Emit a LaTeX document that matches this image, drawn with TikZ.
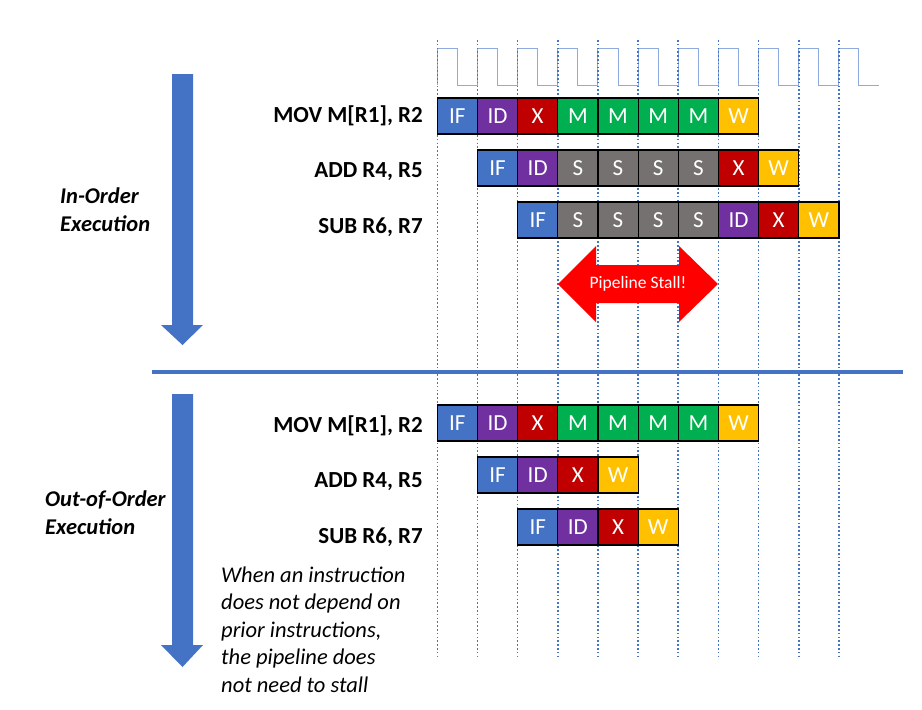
\documentclass[tikz,border=0pt]{standalone}
\usepackage{fontspec}
\setmainfont{Carlito}
\usetikzlibrary{calc}
\definecolor{cIF}{HTML}{4472C4}
\definecolor{cID}{HTML}{7030A0}
\definecolor{cX}{HTML}{C00000}
\definecolor{cM}{HTML}{00B050}
\definecolor{cW}{HTML}{FFC000}
\definecolor{cS}{HTML}{767171}
\newcommand{\flowColor}{cIF}
\newcommand{\stallColor}{red}
\tikzset{stage/.style = {draw=black, line width=1.2pt, minimum width=40.16pt, minimum height=36pt, inner sep=0pt, text=white, font=\fontsize{23}{23}\selectfont, text height=14.8pt, text depth=0pt}}
\tikzset{instr/.style = {anchor=base east, inner sep=0pt, font=\fontsize{23}{27}\selectfont\bfseries}}
\tikzset{side/.style = {anchor=base west, inner sep=0pt, align=left, font=\fontsize{22.5}{28}\selectfont\bfseries\itshape}}
\tikzset{tick/.style = {\flowColor, line width=1.6pt, dash pattern=on 1.6pt off 2.2pt}}
\tikzset{clock/.style = {color={rgb,255:red,143;green,170;blue,220}, line width=1pt}}

\begin{document}
\begin{tikzpicture}[x=1pt, y=-1pt]
    \def\xo{437.3}
    \def\p{40.16}
    \useasboundingbox (0,0) rectangle (922,710);

    % clock signal
    \draw[clock] (\xo,85) \foreach \i in {0,...,10} {-- ++(0,-37) -- ++(0.5*\p,0) -- ++(0,37) -- ++(0.5*\p,0)};

    % cycle boundaries
    \foreach \i in {0,...,10}
        \draw[tick] ({\xo+\i*\p},40) -- ({\xo+\i*\p},659);

    % pipeline stages, one row per instruction
    \foreach \y/\c/\list [count=\r] in {116/0/{IF,ID,X,M,M,M,M,W}, 168/1/{IF,ID,S,S,S,S,X,W}, 220/2/{IF,S,S,S,S,ID,X,W}, 423/0/{IF,ID,X,M,M,M,M,W}, 475/1/{IF,ID,X,W}, 527/2/{IF,ID,X,W}}
        \foreach \s [count=\i from \c] in \list
            \node[stage, fill=c\s] (b\r-\i) at ({\xo+(\i+0.5)*\p},\y) {\s};

    \node[instr] (mov1) at (423,122) {MOV M[R1], R2};
    \node[instr] (add1) at (423,177) {ADD R4, R5};
    \node[instr] (sub1) at (423,233) {SUB R6, R7};
    \node[instr] (mov2) at (423,432) {MOV M[R1], R2};
    \node[instr] (add2) at (423,487) {ADD R4, R5};
    \node[instr] (sub2) at (423,543) {SUB R6, R7};

    % stall marker
    \fill[\stallColor] (558,284) -- (596,246) -- (596,265) -- (679,265) -- (679,246) -- (718,284)
        -- (679,322) -- (679,303) -- (596,303) -- (596,322) -- cycle;
    \node[text=white, font=\fontsize{17.5}{17.5}\selectfont] (stall) at (638,284) {Pipeline Stall!};

    % separator
    \draw[\flowColor, line width=4pt] (152,372) -- (903,372);

    % time arrows
    \fill[\flowColor] (172,74) -- (193,74) -- (193,325) -- (203,325) -- (182.5,345) -- (161,325) -- (172,325) -- cycle;
    \fill[\flowColor] (172,394) -- (193,394) -- (193,645) -- (203,645) -- (182.5,667) -- (161,645) -- (172,645) -- cycle;

    % base anchor sits on the last line
    \node[side] (inorder) at (60,231) {In-Order\\Execution};
    \node[side] (outorder) at (45,534) {Out-of-Order\\Execution};
    \node[side, font=\fontsize{22.5}{27.5}\selectfont\itshape] (note) at (221,692)
        {When an instruction\\does not depend on\\prior instructions,\\the pipeline does\\not need to stall};
\end{tikzpicture}
\end{document}
